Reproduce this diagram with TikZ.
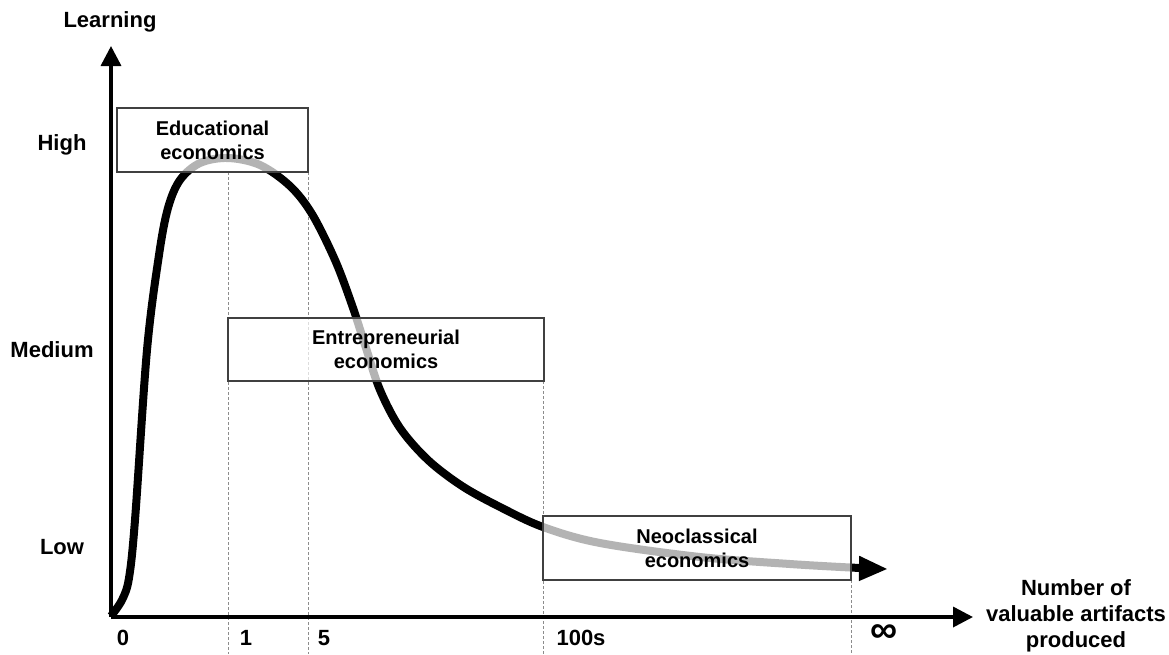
\documentclass[tikz,border=0pt]{standalone}
\usepackage{fontspec}
\setmainfont{Liberation Sans}
\usetikzlibrary{arrows.meta}
\begin{document}
\begin{tikzpicture}[x=1pt,y=-1pt,
  lbl/.style={font=\fontsize{22}{26}\selectfont\bfseries, align=center, inner sep=0pt},
  regionbox/.style={draw=black!75, line width=1.3pt, fill=white, fill opacity=0.7, text opacity=1,
    font=\fontsize{20}{24}\selectfont\bfseries, align=center, inner sep=0pt},
  guide/.style={draw=black!45, line width=0.9pt, dash pattern=on 3pt off 2pt},
  axis/.style={line width=3.5pt, -{Triangle[length=20pt,width=20pt]}},
  curve/.style={line width=8pt, line join=round, -{Triangle[length=29pt,width=23pt]}},
]
\useasboundingbox (0,0) rectangle (1169,654);

% guide lines
\coordinate (g1t) at (228,172); \coordinate (g1b) at (228,654);
\coordinate (g2t) at (308,172); \coordinate (g2b) at (308,654);
\coordinate (g3t) at (543,381); \coordinate (g3b) at (543,654);
\coordinate (g4t) at (851,580); \coordinate (g4b) at (851,654);
\draw[guide] (g1t) -- (g1b);
\draw[guide] (g2t) -- (g2b);
\draw[guide] (g3t) -- (g3b);
\draw[guide] (g4t) -- (g4b);

% learning curve
\draw[curve] plot[smooth, tension=0.55] coordinates {
  (111,616) (122,600) (129,578) (135,520) (147,350) (159,255) (168,208)
  (180,180) (200,163) (228,158) (260,165) (290,186) (312,214) (335,260)
  (352,305) (366,348) (380,390) (400,428) (428,460) (462,486) (500,507) (543,527)
  (600,543) (700,557) (790,564) (860,568) (888,569)};

% region boxes
\node[regionbox, minimum width=191pt, minimum height=64pt] (edu) at (212.5,140) {Educational\\economics};
\node[regionbox, minimum width=316pt, minimum height=63pt] (ent) at (386,349.5) {Entrepreneurial\\economics};
\node[regionbox, minimum width=308pt, minimum height=64pt] (neo) at (697,548) {Neoclassical\\economics};

% axes
\coordinate (origin) at (111,617);
\coordinate (ytip) at (111,46);
\coordinate (xtip) at (973,617);
\draw[axis] (origin) -- (ytip);
\draw[axis] (origin) -- (xtip);

% axis labels
\node[lbl] (ylab) at (110,22) {Learning};
\node[lbl] (high) at (62,145) {High};
\node[lbl] (med) at (52,350) {Medium};
\node[lbl] (low) at (62,547) {Low};
\node[lbl] (t0) at (123,638) {0};
\node[lbl] (t1) at (246,638) {1};
\node[lbl] (t5) at (324,638) {5};
\node[lbl] (t100) at (581,638) {100s};
\node[lbl, font=\fontsize{38}{38}\selectfont\bfseries] (tinf) at (884,634) {∞};
\node[lbl] (xlab) at (1076,616) {Number of\\valuable artifacts\\produced};
\end{tikzpicture}
\end{document}
